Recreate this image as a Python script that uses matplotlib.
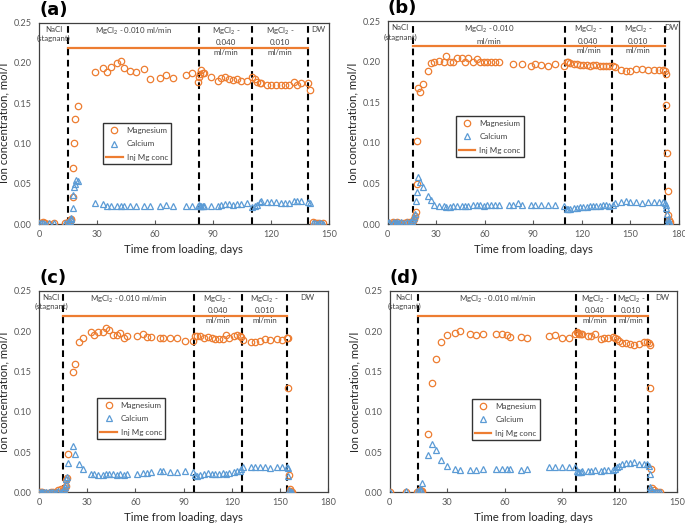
import matplotlib
matplotlib.use('Agg')
import matplotlib.pyplot as plt
import numpy as np
from matplotlib.lines import Line2D

plt.rcParams['font.family'] = ['Lato', 'DejaVu Sans']
plt.rcParams['mathtext.fontset'] = 'custom'
plt.rcParams['mathtext.rm'] = 'Lato'
plt.rcParams['mathtext.it'] = 'Lato:italic'

nan = np.nan

# ---------------- data ----------------
# panel (a)
a_t = [0, 1, 2, 3, 5, 8, 13.5, 15.2, 15.8, 16.3, 16.8, 17.5, 17.8, 18.2, 18.8, 19.3, 20,
       29, 33, 35, 37.4, 40.3, 42.4, 44.2, 47.2, 50.3, 54.5, 57.3, 62.5, 65.6, 69.4,
       76.3, 79.4, 82.2, 83, 83.5, 84, 84.7, 85.5, 89, 92.4, 94.3, 96.3, 98.5, 100.6,
       102.7, 104.8, 107.5, 110.4, 111.6, 112.6, 114.2, 115, 117.8, 120.2, 122.5, 125.5,
       127.5, 129.5, 131.8, 133.5, 135.5, 139, 140.5, 142, 143, 144, 145, 146, 147]
a_mg = [.001, .001, .002, .001, .000, .001, .001, .002, .004, .005, .006, .033, .070, .101, .130, nan, .146,
        .189, .194, .189, .195, .200, .202, .194, .190, .189, .192, .180, .181, .185, .181,
        .185, .187, .176, .183, .186, .191, .188, .188, .183, .178, .181, .182, .180, .179,
        .180, .177, .177, .182, .180, .176, .175, .175, .173, .173, .173, .172,
        .172, .173, .176, .172, .175, .175, .167, .003, .001, .001, .001, .000, .001]
a_ca = [.001, .001, .001, .000, .001, .001, .001, .003, .004, .006, .008, .020, .036, .046, .050, .055, .053,
        .026, .025, .023, .022, .022, .023, .023, .022, .022, .023, .022, .022, .024, .022,
        .023, .023, .023, .024, .022, .023, .022, .022, .022, .023, .024, .025, .025, .024,
        .025, .025, .026, .021, .023, .024, .028, .029, .027, .028, .028, .026,
        .026, .026, .029, .029, .029, .028, .026, .001, .001, .000, .001, .001, .000]
a_bounds = [15.2, 83, 110.4, 139]
a_xmax = 150
a_labels = ['NaCl\n(stagnant)', 'MgCl$_2$ - 0.010 ml/min', 'MgCl$_2$ -\n0.040\nml/min',
            'MgCl$_2$ -\n0.010\nml/min', 'DW']

# panel (b)
b_t = [0, 1, 3, 4, 5, 6, 7, 8, 10, 12, 13.5, 15, 15.8, 16.4, 17, 17.5, 17.9, 18.3, 18.6,
       20.2, 21.8, 25.1, 26.8, 28.8, 32, 35, 36.2, 38.5, 40.6, 42.6, 45.7, 47.8, 49.8,
       52.5, 55, 57.2, 59.8, 61.6, 63.7, 66.4, 69, 75, 77.6, 80.5, 82.8, 88.3, 91, 94.7,
       98.8, 103.6, 109, 110.6, 111.6, 112.8, 115, 117, 119, 121, 123, 125, 127, 129,
       131, 133, 135, 137, 139, 140.7, 144.4, 147.3, 150, 153.6, 157.5, 161.2, 164.7,
       167.5, 170, 171.5, 172, 172.3, 172.7, 173.2, 173.6, 174.2, 174.8]
b_mg = [.001, .000, .002, .001, .000, .002, .000, .001, .001, .002, .002, .003, .004, .006, .010, .015, .049, .102, .168,
        .163, .172, .188, .198, .199, .201, .200, .207, .199, .200, .205, .205, .199, .204,
        .199, .203, .200, .199, .200, .200, .200, .200, nan, .197, nan, .197, .195, .197, .196,
        .195, .197, .195, .200, .199, .198, .197, .197, .196, .196, .196, .195, .196, .196,
        .195, .195, .195, .195, .195, .193, .190, .189, .188, .191, .191, .190, .190,
        .190, .190, .188, .185, .147, .087, .041, .011, .005, .002]
b_ca = [.001, .002, .001, .002, .001, .002, .001, .002, .001, .002, .003, .004, .006, .009, .012, .028, .040, nan, .058,
        .052, .046, .035, .030, .024, .022, .022, .021, .021, .022, .022, .022, .022, .022,
        .023, .023, .023, .022, .023, .023, .023, .023, .023, .023, .026, .024, .023, .023, .023,
        .023, .023, .022, .019, .018, .019, .020, .020, .021, .021, .021, .022, .022, .022,
        .022, .023, .023, .022, .024, .026, .027, .028, .027, .027, .026, .027, .027,
        .027, .027, .026, .024, .020, .012, .006, .003, .002, .001]
b_bounds = [15.4, 109.8, 138.4, 171.3]
b_xmax = 180
b_labels = ['NaCl\n(stagnant)', 'MgCl$_2$ - 0.010\nml/min', 'MgCl$_2$ -\n0.040\nml/min',
            'MgCl$_2$ -\n0.010\nml/min', 'DW']

# panel (c)
c_t = [0, 1, 2, 3, 4.5, 6, 7.5, 9, 10.5, 12, 13.5, 14.8, 15.5, 16, 16.5, 17, 17.3, 18.2,
       21.4, 22.4, 25.1, 27.2, 32.1, 34.2, 36.5, 39.8, 41.7, 43.5, 46.2, 48.3, 50.4, 53.1,
       55, 61.2, 64.5, 67, 69.5, 75.3, 77.4, 81.5, 85.6, 90.8, 96, 97, 98.2, 100, 102.7,
       105, 107.5, 109.5, 112, 114.5, 116.5, 118.5, 121.5, 123.5, 125, 126, 127.3, 132,
       134.2, 137.5, 140.7, 144, 148, 151, 154.5, 154.8, 155.2, 155.5, 156, 156.5, 157, 157.5]
c_mg = [.001, .001, .000, -.001, -.001, -.001, .000, .000, .001, .003, .004, .003, .002, .005, .008, .015, .018, .047,
        .149, .159, .186, .191, .199, .195, .199, .199, .204, .201, .195, .195, .198, .192,
        .194, .194, .197, .193, .193, .191, .191, .191, .191, .188, .188, .194, .194, .194, .192,
        .193, .191, .190, .190, .190, .195, .191, .194, .195, .194, .193, .189, .187,
        .187, .188, .190, .189, .190, .189, .191, .192, .130, .021, .004, .002, .001, .001]
c_ca = [.001, .001, .001, .000, .001, .001, .001, .001, .001, .002, .001, .002, .004, .007, .010, .017, .019, .036,
        .057, .048, .035, .029, .023, .023, .022, .022, .023, .023, .023, .022, .023, .022,
        .023, .023, .024, .024, .025, .026, .026, .025, .025, .026, .025, .021, .020, .021, .023,
        .024, .023, .023, .023, .024, .023, .024, .025, .026, .027, .029, .031, .031,
        .032, .031, .031, .030, .031, .032, .031, .030, .020, .003, .001, .001, .000, .001]
c_bounds = [15.1, 96.4, 126.1, 154.7]
c_xmax = 180
c_labels = ['NaCl\n(stagnant)', 'MgCl$_2$ - 0.010 ml/min', 'MgCl$_2$ -\n0.040\nml/min',
            'MgCl$_2$ -\n0.010\nml/min', 'DW']

# panel (d)
d_t = [0, 8.7, 14.3, 15.2, 15.7, 16.5, 17, 20, 22.3, 24, 26.6, 29.9, 33.9, 36.9, 41.8,
       44.9, 48.7, 55.3, 58.5, 61.4, 62.6, 68.7, 71.7, 83.2, 86.5, 90.1, 93.6, 96.7, 97.6,
       98.3, 99, 99.8, 100.6, 103.5, 105.3, 107.5, 110.5, 112.2, 114, 116.6, 117.8, 118.8,
       119.8, 121.5, 123.5, 125.8, 127.8, 130, 133, 134.6, 135.3, 135.8, 136.2, 136.6,
       137.2, 138, 139, 140, 141]
d_mg = [.001, .001, .001, .002, .003, .002, .002, .073, .136, .165, .187, .195, .198, .200, .196,
        .195, .197, .196, .196, .195, .193, .193, .192, .194, .195, .192, .192, .196, .199,
        .198, .196, .197, .197, .194, .194, .197, .190, .192, .192, .193, .191, .190,
        .188, .185, .185, .184, .183, .184, .186, .187, .185, .183, .129, .029,
        .006, .003, .001, .001, .001]
d_ca = [.001, .002, .002, .002, .003, .003, .012, .046, .060, .053, .040, .033, .029, .028, .028,
        .028, .029, .029, .029, .029, .029, .028, .029, .031, .031, .031, .031, .032, .027,
        .025, .025, .025, .026, .027, .027, .028, .027, .028, .028, .028, .029, .031,
        .033, .035, .037, .036, .038, .035, .035, .035, .033, .023, .007, .004,
        .002, .001, .001, .000, .001]
d_bounds = [15, 97.3, 117.5, 134.9]
d_xmax = 150
d_labels = ['NaCl\n(stagnant)', 'MgCl$_2$ - 0.010 ml/min', 'MgCl$_2$ -\n0.040\nml/min',
            'MgCl$_2$ -\n0.010\nml/min', 'DW']

inj_conc = 0.219

ORANGE = '#ED7D31'
BLUE = '#5B9BD5'
GRAY = '#595959'


def draw_panel(ax, t, mg, ca, bounds, xmax, labels, letter, legend_pos):
    ax.plot(t, mg, 'o', mfc='none', mec=ORANGE, ms=4.6, mew=0.9, zorder=3)
    ax.plot(t, ca, '^', mfc='none', mec=BLUE, ms=4.2, mew=0.9, zorder=3)
    ax.plot([bounds[0], bounds[-1]], [inj_conc, inj_conc], '-', color=ORANGE, lw=1.6, zorder=2)
    for b in bounds:
        ax.axvline(b, color='black', ls=(0, (3.2, 2.2)), lw=1.5, zorder=1)
    edges = [0] + list(bounds) + [xmax]
    for i, lab in enumerate(labels):
        xc = (edges[i] + edges[i + 1]) / 2
        ax.text(xc, 0.985, lab, transform=ax.get_xaxis_transform(), ha='center', va='top',
                fontsize=5.7, color='#404040', linespacing=1.4)
    ax.set_xlim(0, xmax)
    ax.set_ylim(0, 0.25)
    ax.set_xticks(np.arange(0, xmax + 1, 30))
    ax.set_yticks(np.arange(0, 0.251, 0.05))
    ax.yaxis.set_major_formatter(matplotlib.ticker.FormatStrFormatter('%.2f'))
    ax.tick_params(axis='x', direction='in', length=3, width=0.8, color=GRAY,
                   labelsize=6.6, labelcolor=GRAY, pad=4)
    ax.tick_params(axis='y', length=0, labelsize=6.6, labelcolor=GRAY, pad=5)
    for s in ax.spines.values():
        s.set_color('#404040')
        s.set_linewidth(0.9)
    ax.set_xlabel('Time from loading, days', fontsize=8.2, color='#262626', labelpad=4)
    ax.set_ylabel('Ion concentration, mol/l', fontsize=8.2, color='#262626', labelpad=3)
    ax.text(0.0, 1.02, letter, transform=ax.transAxes, ha='left', va='bottom',
            fontsize=13, fontweight='bold', family='DejaVu Sans')
    handles = [Line2D([], [], ls='none', marker='o', mfc='none', mec=ORANGE, ms=4.6, mew=0.9),
               Line2D([], [], ls='none', marker='^', mfc='none', mec=BLUE, ms=4.2, mew=0.9),
               Line2D([], [], color=ORANGE, lw=1.6)]
    leg = ax.legend(handles, ['Magnesium', 'Calcium', 'Inj Mg conc'], loc='upper left',
                    bbox_to_anchor=legend_pos, fontsize=5.8, frameon=True, fancybox=False,
                    edgecolor='black', labelspacing=0.8, handlelength=2.0, borderpad=0.45,
                    handletextpad=0.5, borderaxespad=0)
    leg.get_frame().set_linewidth(1.0)
    for txt in leg.get_texts():
        txt.set_color('#404040')


fig = plt.figure(figsize=(6.85, 5.26), dpi=100)
ax_a = fig.add_axes([0.057, 0.574, 0.423, 0.383])
ax_b = fig.add_axes([0.566, 0.574, 0.425, 0.386])
ax_c = fig.add_axes([0.057, 0.064, 0.422, 0.383])
ax_d = fig.add_axes([0.569, 0.064, 0.419, 0.383])

draw_panel(ax_a, a_t, a_mg, a_ca, a_bounds, a_xmax, a_labels, '(a)', (0.22, 0.50))
draw_panel(ax_b, b_t, b_mg, b_ca, b_bounds, b_xmax, b_labels, '(b)', (0.233, 0.532))
draw_panel(ax_c, c_t, c_mg, c_ca, c_bounds, c_xmax, c_labels, '(c)', (0.20, 0.468))
draw_panel(ax_d, d_t, d_mg, d_ca, d_bounds, d_xmax, d_labels, '(d)', (0.285, 0.463))

fig.savefig('out.png', dpi=100)
